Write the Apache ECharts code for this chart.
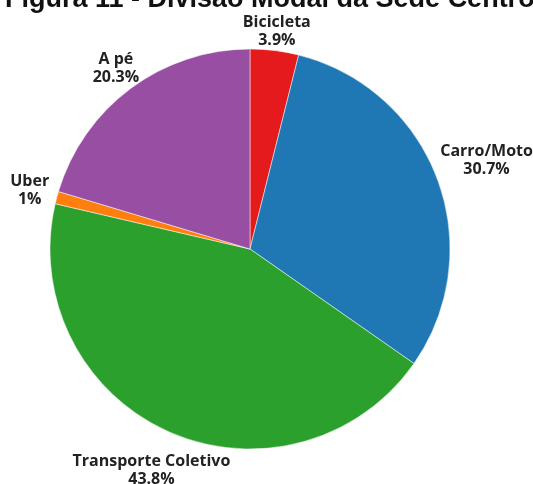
<!DOCTYPE html>
<html>
<head>
<meta charset="utf-8">
<script src="https://cdn.jsdelivr.net/npm/echarts@6/dist/echarts.min.js"></script>
<style>
html,body{margin:0;padding:0;background:#fff;}
#chart{width:533px;height:484px;}
</style>
</head>
<body>
<div id="chart"></div>
<script>
const categories = ['Bicicleta', 'Carro/Moto', 'Transporte Coletivo', 'Uber', 'A pé'];
const values = [3.9, 30.7, 43.8, 1, 20.3];
const colors = ['#e41a1c', '#1f77b4', '#2ca02c', '#ff7f0e', '#984ea3'];
const titleText = 'Figura 11 - Divisão Modal da Sede Centro';

const CX = 250, CY = 249, R = 200;
const total = values.reduce((a, b) => a + b, 0);
const midAngles = [];
{
  let acc = 0;
  values.forEach(v => { midAngles.push((acc + v / 2) / total * 2 * Math.PI); acc += v; });
}

const chart = echarts.init(document.getElementById('chart'), null, {renderer: 'canvas'});
chart.setOption({
  animation: false,
  backgroundColor: '#fff',
  graphic: [{
    type: 'text', left: 5, top: -14,
    style: {text: titleText, font: 'bold 27px "Liberation Sans", Arial, sans-serif', fill: '#111'}
  }],
  series: [{
    type: 'pie',
    center: [CX, CY],
    radius: R,
    startAngle: 90,
    clockwise: true,
    data: categories.map((c, i) => ({name: c, value: values[i], itemStyle: {color: colors[i]}})),
    itemStyle: {borderColor: '#fff', borderWidth: 0.5},
    label: {
      show: true, position: 'outside', overflow: 'none',
      formatter: p => p.name + '\n' + p.value + '%',
      fontFamily: '"Open Sans", sans-serif', fontWeight: 'bold', fontSize: 16,
      color: '#222', lineHeight: 18, align: 'center'
    },
    labelLine: {show: false, length: 8, length2: 0},
    labelLayout: function (params) {
      const a = midAngles[params.dataIndex];
      const sx = Math.sin(a), sy = -Math.cos(a);
      const w = params.labelRect.width, h = params.labelRect.height;
      const d = R + 9 + Math.hypot(sx * w / 2, sy * h / 2 * 0.5);
      return {x: CX + sx * d, y: CY + sy * d, align: 'center', verticalAlign: 'middle'};
    }
  }]
});
</script>
</body>
</html>
